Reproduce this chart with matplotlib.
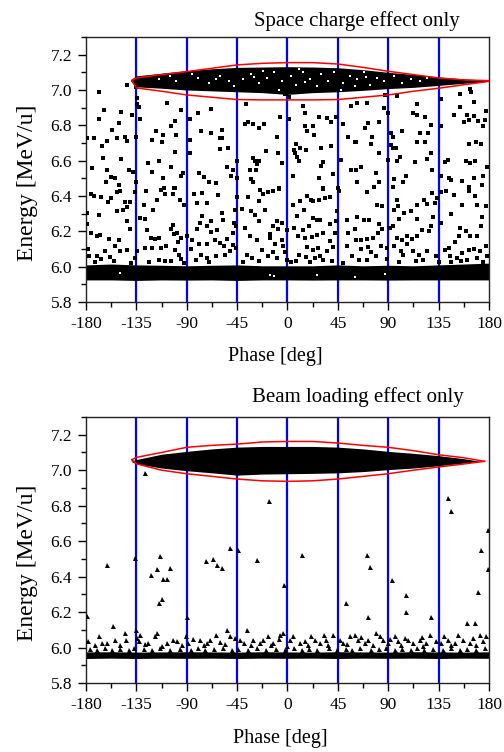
import numpy as np
import matplotlib
matplotlib.use("Agg")
import matplotlib.pyplot as plt
from matplotlib.ticker import MultipleLocator

plt.rcParams['font.family'] = ['Liberation Serif', 'DejaVu Serif']
plt.rcParams['axes.unicode_minus'] = False

# ---------------- data ----------------
x_ticks = [-180, -135, -90, -45, 0, 45, 90, 135, 180]
y_ticks = [5.8, 6.0, 6.2, 6.4, 6.6, 6.8, 7.0, 7.2]
blue_lines = [-135, -90, -45, 0, 45, 90, 135]

# red acceptance boundary, top panel
red_phase = [-139, -135, -112.5, -90, -67.5, -45, -22.5, 0, 22.5, 45, 67.5, 90, 112.5, 135, 157.5, 180]
red_top_1 = [7.053, 7.068, 7.087, 7.104, 7.123, 7.142, 7.151, 7.155, 7.155, 7.147, 7.128, 7.106, 7.087, 7.068, 7.057, 7.053]
red_bot_1 = [7.053, 7.012, 6.993, 6.972, 6.959, 6.946, 6.944, 6.944, 6.944, 6.946, 6.959, 6.972, 6.993, 7.010, 7.030, 7.049]
# red acceptance boundary, bottom panel
red_phase_2 = [-139, -135, -112.5, -90, -67.5, -45, -22.5, 0, 22.5, 45, 67.5, 90, 112.5, 135, 157.5, 176]
red_top_2 = [7.059, 7.072, 7.100, 7.129, 7.140, 7.147, 7.159, 7.162, 7.162, 7.153, 7.140, 7.129, 7.110, 7.087, 7.070, 7.050]
red_bot_2 = [7.059, 7.036, 7.000, 6.980, 6.965, 6.950, 6.940, 6.937, 6.940, 6.950, 6.965, 6.980, 7.000, 7.018, 7.035, 7.050]

# dense core inside the bucket, top panel
core_phase_1 = [-140, -135, -112.5, -90, -67.5, -45, -22.5, 0, 22.5, 45, 67.5, 90, 112.5, 135, 157.5, 180]
core_top_1 = [7.060, 7.080, 7.095, 7.110, 7.120, 7.128, 7.130, 7.132, 7.130, 7.126, 7.115, 7.100, 7.088, 7.074, 7.063, 7.055]
core_bot_1 = [7.050, 7.018, 7.010, 7.000, 6.995, 6.990, 6.985, 6.975, 6.985, 6.990, 6.998, 7.008, 7.015, 7.026, 7.038, 7.050]
core_holes_1 = [(-115, 7.06), (-100, 7.05), (-80, 7.07), (-70, 7.04), (-60, 7.08), (-52, 7.05), (-40, 7.06),
                (-33, 7.09), (-25, 7.04), (-18, 7.07), (-12, 7.10), (-5, 7.05), (3, 7.08), (8, 7.03), (14, 7.10),
                (20, 7.06), (26, 7.02), (30, 7.09), (36, 7.05), (42, 7.10), (50, 7.04), (56, 7.08), (62, 7.06),
                (68, 7.10), (74, 7.03), (80, 7.07), (86, 7.05), (95, 7.08), (102, 7.04), (110, 7.06), (118, 7.05),
                (125, 7.07), (-85, 7.09), (-105, 7.08), (-22, 7.11), (10, 7.12), (48, 7.00), (-8, 7.00),
                (-48, 7.02), (60, 7.02), (-30, 7.075), (16, 7.045), (70, 7.075), (-64, 7.06)]

# dense core, bottom panel
core_phase_2 = [-140, -135, -112.5, -90, -67.5, -45, -22.5, 0, 22.5, 45, 67.5, 90, 112.5, 135, 157.5, 172]
core_top_2 = [7.050, 7.060, 7.090, 7.106, 7.120, 7.130, 7.134, 7.134, 7.134, 7.130, 7.120, 7.106, 7.095, 7.082, 7.065, 7.050]
core_bot_2 = [7.050, 7.036, 7.012, 6.997, 6.985, 6.972, 6.978, 6.980, 6.982, 6.985, 6.992, 7.003, 7.012, 7.025, 7.040, 7.050]

# low-energy band
band_phase = [-180, -157.5, -135, -112.5, -90, -67.5, -45, -22.5, 0, 22.5, 45, 67.5, 90, 112.5, 135, 157.5, 180]
band_top_1 = [6.010, 6.015, 6.010, 6.008, 6.005, 6.008, 6.010, 6.005, 6.005, 6.005, 6.010, 6.005, 6.008, 6.005, 6.010, 6.015, 6.020]
band_bot_1 = [5.925, 5.925, 5.922, 5.925, 5.924, 5.925, 5.922, 5.925, 5.925, 5.924, 5.925, 5.925, 5.924, 5.925, 5.925, 5.925, 5.925]
band_holes_1 = [(-15.6, 5.955), (-12, 5.945), (26, 5.951), (60.3, 5.942), (87.5, 5.961), (-150, 5.962)]
band_top_2 = [5.975, 5.976, 5.974, 5.975, 5.976, 5.975, 5.974, 5.976, 5.975, 5.974, 5.976, 5.975, 5.974, 5.976, 5.975, 5.974, 5.976]
band_bot_2 = [5.938, 5.940, 5.938, 5.940, 5.939, 5.940, 5.938, 5.940, 5.939, 5.940, 5.938, 5.940, 5.939, 5.940, 5.938, 5.940, 5.939]

# scattered particles, top panel (phase, energy)
sc_left_high = [(-168.4, 6.989), (-134.2, 6.918), (-108, 6.929), (-94.8, 6.886), (-80, 6.867), (-68.6, 6.895),
                (-164, 6.886), (-149, 6.876), (-139, 6.857), (-131.8, 6.835), (-168.4, 6.835), (-150.5, 6.816),
                (-100.8, 6.825), (-103.8, 6.797), (-87, 6.838), (-77, 6.767), (-68.6, 6.758), (-156.5, 6.773),
                (-117.8, 6.767), (-111.2, 6.748), (-99.9, 6.748), (-178.8, 6.726), (-172.9, 6.726), (-161.6, 6.712),
                (-165.4, 6.684), (-152, 6.726), (-145.5, 6.735), (-143.7, 6.712), (-135.6, 6.735), (-120.7, 6.716),
                (-111.8, 6.707), (-100.8, 6.65), (-87, 6.716), (-87, 6.641), (-60.3, 6.726), (-60.3, 6.665),
                (-164.5, 6.616), (-149, 6.607), (-124.6, 6.584), (-114.8, 6.597), (-103.8, 6.565), (-174.4, 6.556),
                (-161.5, 6.546), (-158, 6.509), (-154.4, 6.503), (-141.6, 6.546), (-137.7, 6.537), (-120.7, 6.537),
                (-111.2, 6.503), (-93, 6.528), (-95.4, 6.514), (-79, 6.528), (-74.6, 6.509), (-70, 6.48),
                (-64.2, 6.471), (-162.4, 6.48), (-150.5, 6.462), (-135.6, 6.48), (-110.3, 6.447), (-101.4, 6.447),
                (-168, 6.99), (-143.6, 7.03), (-135.3, 7.019), (-134.5, 6.955), (-133, 6.905)]
sc_mid_high = [(-37.1, 6.918), (-6.7, 6.848), (1.6, 6.835), (14.1, 6.91), (15.6, 6.867), (28.4, 6.848),
               (35.6, 6.842), (38.6, 6.82), (43.3, 6.848), (56.4, 6.91), (-38, 6.81), (-35, 6.82), (-30.5, 6.806),
               (-25.2, 6.786), (-20.7, 6.81), (15.6, 6.797), (17.7, 6.767), (22.5, 6.797), (23.7, 6.748),
               (49.9, 6.806), (-58.8, 6.773), (-58.8, 6.726), (-52.9, 6.669), (-9.7, 6.735), (7.6, 6.697),
               (11.2, 6.673), (16.5, 6.66), (5.8, 6.663), (29.6, 6.673), (38.6, 6.684), (54.4, 6.735), (60.3, 6.703),
               (-19.2, 6.656), (-8.2, 6.646), (6.7, 6.646), (8.8, 6.622), (10.6, 6.597), (-5.2, 6.584),
               (-30.5, 6.616), (-29, 6.597), (-27.5, 6.579), (-25.2, 6.597), (-44.8, 6.597), (-54.3, 6.565),
               (-48.4, 6.546), (-50.8, 6.515), (-44.8, 6.503), (-33.5, 6.546), (-28.1, 6.546), (-32.9, 6.496),
               (-30.5, 6.477), (4.6, 6.515), (31.4, 6.594), (29.6, 6.571), (47.5, 6.603), (56.4, 6.546),
               (28.4, 6.503), (40.9, 6.522), (45.4, 6.447), (-7.3, 6.447), (31.4, 6.447), (1.0, 6.96), (-2, 6.975)]
sc_right_high = [(62.4, 6.929), (70.7, 6.929), (86.2, 6.899), (89.8, 6.872), (112.4, 6.867), (116, 6.857),
                 (115.4, 6.923), (122.5, 6.848), (137.4, 6.948), (154.1, 6.98), (164.2, 6.989), (166.6, 6.933),
                 (148.7, 6.861), (154.1, 6.904), (160, 6.857), (162.1, 6.829), (166.6, 6.853), (170.2, 6.823),
                 (174.9, 6.797), (177, 6.88), (176.1, 6.829), (71.9, 6.816), (81.7, 6.82), (68.9, 6.786),
                 (92.8, 6.759), (94.5, 6.735), (102.6, 6.767), (118.4, 6.759), (125.5, 6.759), (128.5, 6.801),
                 (137.4, 6.797), (157.7, 6.82), (60.9, 6.707), (75.8, 6.735), (74.3, 6.692), (92.2, 6.688),
                 (94.5, 6.673), (96.6, 6.673), (115.4, 6.707), (122.5, 6.707), (162.1, 6.697), (168.1, 6.707),
                 (173.2, 6.692), (81.7, 6.646), (100.5, 6.622), (97.5, 6.597), (89.8, 6.603), (128.5, 6.646),
                 (124.9, 6.609), (113.6, 6.59), (143.4, 6.603), (140.4, 6.59), (159.2, 6.597), (163, 6.584),
                 (167.2, 6.597), (178.5, 6.565), (66, 6.565), (60.9, 6.546), (78.8, 6.533), (105.6, 6.515),
                 (95.1, 6.496), (129.4, 6.546), (137.4, 6.515), (144.3, 6.503), (146.4, 6.49), (156.2, 6.484),
                 (166.6, 6.503), (174.9, 6.515), (81.7, 6.48), (62.4, 6.48), (94.5, 6.452), (77.3, 6.452),
                 (103.5, 6.48), (162.1, 6.452), (174, 6.462), (163, 7.006), (87, 6.97), (98, 6.965)]
sc_left_low = [(-175.8, 6.413), (-172.9, 6.401), (-166.3, 6.397), (-160.4, 6.364), (-157.4, 6.388), (-152, 6.42),
               (-149.6, 6.426), (-145.5, 6.364), (-140.7, 6.364), (-152.6, 6.313), (-146.7, 6.322), (-143.7, 6.337),
               (-136.5, 6.42), (-179.4, 6.303), (-168.4, 6.294), (-178.8, 6.243), (-175.8, 6.19), (-170.5, 6.175),
               (-178.2, 6.1), (-177.3, 6.058), (-169.9, 6.058), (-166.9, 6.043), (-159.5, 6.156), (-154.4, 6.115),
               (-150.5, 6.149), (-149.6, 6.087), (-143.7, 6.256), (-140.7, 6.213), (-143.1, 6.096), (-158.6, 6.055),
               (-167.5, 6.181), (-163.3, 6.087), (-136.5, 6.049), (-134.2, 6.087), (-131.8, 6.275), (-127.6, 6.269),
               (-126.7, 6.426), (-119.9, 6.322), (-125.8, 6.209), (-122.2, 6.162), (-118.7, 6.156), (-114.8, 6.162),
               (-127.6, 6.106), (-120.7, 6.106), (-112.7, 6.106), (-108.8, 6.119), (-114.8, 6.04), (-109.7, 6.03),
               (-103.8, 6.03), (-112.7, 6.435), (-109.7, 6.413), (-102, 6.413), (-100.8, 6.445), (-96, 6.375),
               (-92.5, 6.35), (-102, 6.237), (-103.8, 6.213), (-101.4, 6.187), (-98.4, 6.19), (-95.4, 6.162),
               (-90.1, 6.175), (-97.8, 6.138), (-100.8, 6.096), (-96.9, 6.068), (-95.4, 6.043), (-86.5, 6.1),
               (-85, 6.149), (-81.1, 6.213), (-78.2, 6.247), (-76, 6.285), (-72.2, 6.228), (-68.6, 6.256),
               (-68, 6.194), (-63.3, 6.209), (-79, 6.13), (-72.2, 6.13), (-65.1, 6.149), (-60.3, 6.134),
               (-77, 6.068), (-82.1, 6.036), (-71.6, 6.049), (-64.2, 6.058), (-83.5, 6.413), (-76, 6.416),
               (-71.6, 6.36), (-80.6, 6.36), (-62.1, 6.407), (-128.2, 6.35), (-116.9, 6.379),
               (-172, 6.025), (-155, 6.03), (-140, 6.022), (-124, 6.028), (-92, 6.022), (-70, 6.025)]
sc_mid_low = [(-44.8, 6.397), (-46.9, 6.318), (-47.8, 6.25), (-46, 6.228), (-49, 6.19), (-53.7, 6.156),
              (-56.7, 6.119), (-48.4, 6.124), (-46, 6.106), (-51.4, 6.087), (-55.8, 6.068), (-58.8, 6.303),
              (-57.9, 6.266), (-41, 6.326), (-35, 6.394), (-32.9, 6.313), (-29, 6.294), (-24.6, 6.435),
              (-25.2, 6.369), (-21.6, 6.413), (-17.1, 6.42), (-12.7, 6.426), (-7.3, 6.439), (-20.1, 6.318),
              (-25.2, 6.256), (-33.5, 6.175), (-38, 6.218), (-27.5, 6.153), (-23.1, 6.092), (-15.6, 6.187),
              (-13.2, 6.232), (-9.7, 6.256), (-5.2, 6.25), (-8.2, 6.213), (-15.6, 6.162), (-11.2, 6.13),
              (-12.7, 6.081), (-5.2, 6.149), (-4.3, 6.115), (-2.2, 6.081), (-9.1, 6.049), (-17.1, 6.058),
              (-36.5, 6.068), (-32, 6.049), (5.2, 6.35), (11.2, 6.369), (14.7, 6.322), (8.8, 6.285),
              (17.7, 6.401), (20.7, 6.379), (23.1, 6.369), (28.4, 6.375), (33.5, 6.388), (38, 6.397), (32, 6.439),
              (23.1, 6.275), (26.7, 6.266), (29, 6.262), (19.5, 6.232), (14.1, 6.209), (9.7, 6.175), (5.8, 6.218),
              (15.6, 6.162), (21.6, 6.168), (26, 6.181), (32, 6.19), (38, 6.243), (43.3, 6.256), (38, 6.143),
              (42.4, 6.19), (17.1, 6.111), (23.1, 6.096), (27.5, 6.106), (10.6, 6.068), (16.5, 6.055),
              (24.6, 6.049), (29, 6.058), (32, 6.036), (35, 6.087), (41, 6.111), (43.9, 6.313), (46.3, 6.426),
              (52.9, 6.266), (54.4, 6.19), (52.9, 6.115), (57.3, 6.058), (60.3, 6.213), (-0.7, 6.209), (2.8, 6.025),
              (-40, 6.025), (-25, 6.03), (0, 6.04), (8, 6.03), (20, 6.025), (40, 6.03), (50, 6.022)]
sc_right_low = [(70.7, 6.42), (80.2, 6.35), (84.7, 6.345), (97.5, 6.379), (98.7, 6.345), (95.1, 6.322),
                (62.4, 6.281), (68.3, 6.262), (72.8, 6.266), (81.7, 6.243), (84.7, 6.213), (91.6, 6.218),
                (94.5, 6.232), (99.6, 6.269), (104.1, 6.303), (110.6, 6.313), (115.4, 6.35), (115.4, 6.269),
                (121.9, 6.375), (124.9, 6.356), (129.4, 6.416), (133.3, 6.388), (131.5, 6.36), (137.4, 6.42),
                (130.3, 6.281), (137.4, 6.25), (60.9, 6.153), (65.4, 6.153), (70.7, 6.156), (76.7, 6.162),
                (80.8, 6.19), (65.9, 6.1), (71.9, 6.111), (74.9, 6.081), (78.8, 6.058), (83.2, 6.115),
                (88.6, 6.106), (95.1, 6.119), (98.1, 6.162), (102.6, 6.149), (106.4, 6.13), (107, 6.175),
                (111.5, 6.156), (115.4, 6.172), (120.5, 6.209), (126.4, 6.2), (128.5, 6.228), (101.1, 6.087),
                (103.5, 6.068), (112.4, 6.087), (117.5, 6.068), (124.3, 6.087), (132.4, 6.058), (121.3, 6.04),
                (63.9, 6.036), (71.3, 6.036), (89.2, 6.043), (141.3, 6.426), (148.7, 6.407), (156.2, 6.35),
                (162.1, 6.426), (167.2, 6.401), (169.6, 6.35), (145.8, 6.3), (154.1, 6.218), (159.2, 6.2),
                (163, 6.175), (169, 6.172), (172.6, 6.232), (174, 6.281), (177, 6.341), (153.2, 6.172),
                (149.3, 6.138), (144.3, 6.106), (140.4, 6.092), (145.2, 6.058), (151.7, 6.049), (156.2, 6.077),
                (162.1, 6.092), (166.6, 6.1), (172, 6.087), (177, 6.115), (178.5, 6.058), (169.6, 6.049),
                (160.6, 6.036), (145.8, 6.025), (100, 6.025), (115, 6.03), (135, 6.028), (155, 6.03), (175, 6.025)]

# scattered particles, bottom panel (phase, energy)
bl_sparse = [(-178.8, 6.179), (-161, 6.467), (-156.2, 6.119), (-136.3, 6.505), (-135.4, 6.100), (-127.3, 6.984),
             (-122.2, 6.407), (-116.3, 6.444), (-113.9, 6.514), (-111.6, 6.386), (-108, 6.386), (-114.5, 6.251),
             (-112.5, 6.273), (-105, 6.448), (-90.1, 6.172), (-72.9, 6.486), (-66.3, 6.501), (-63.3, 6.467),
             (-58.9, 6.448), (-51.5, 6.561), (-44, 6.548), (-36.6, 6.100), (-27.1, 6.495), (-16.4, 6.824),
             (-3, 6.354), (13.4, 6.523), (52.1, 6.251), (71.1, 6.523), (74.1, 6.454), (72, 6.172), (93.6, 6.382),
             (105.6, 6.294), (105.6, 6.200), (128.5, 6.172), (143.4, 6.843), (146.4, 6.768), (160.4, 6.138),
             (167.2, 6.138), (170.2, 6.311), (173.2, 6.548), (179.1, 6.660), (179.1, 6.442)]
bl_low = [(-178, 6.035), (-168, 6.063), (-161.5, 6.025), (-154, 6.044), (-145, 6.082), (-144, 6.044),
          (-134.8, 6.053), (-132.4, 6.035), (-124.4, 6.025), (-118.4, 6.063), (-117, 6.082), (-108, 6.025),
          (-102, 6.044), (-98.5, 6.035), (-90.7, 6.067), (-88.7, 6.025), (-78.2, 6.044), (-72.3, 6.025),
          (-69.3, 6.044), (-64, 6.072), (-54.4, 6.100), (-51.5, 6.063), (-42.5, 6.044), (-39, 6.025),
          (-30.6, 6.044), (-24.7, 6.025), (-21.6, 6.044), (-17.3, 6.063), (-12.8, 6.025), (-6.8, 6.072),
          (-3.9, 6.082), (2.1, 6.044), (5.1, 6.067), (11, 6.025), (15.5, 6.035), (21.4, 6.063), (24.4, 6.044),
          (28.9, 6.025), (34.8, 6.044), (40.8, 6.072), (46.7, 6.044), (49.7, 6.025), (55.6, 6.063),
          (60.1, 6.072), (63.1, 6.044), (69, 6.025), (72, 6.044), (79.4, 6.082), (82.4, 6.063), (85.4, 6.044),
          (89.8, 6.025), (95.8, 6.063), (98.7, 6.035), (104.7, 6.053), (107.7, 6.044), (112.2, 6.025),
          (118.1, 6.044), (124.1, 6.025), (127, 6.072), (133, 6.035), (137.5, 6.025), (143.4, 6.044),
          (149.3, 6.025), (152.3, 6.072), (156.8, 6.044), (162.8, 6.025), (165.7, 6.053), (171.7, 6.072),
          (174.7, 6.035), (177.6, 6.063), (-165.5, 6.025), (-131.8, 6.072), (-84, 6.05), (-60, 6.03),
          (-47, 6.055), (-8, 6.05), (33, 6.07), (66, 6.06), (92, 6.05), (120, 6.06), (140, 6.065),
          (-172, 6.015), (-150, 6.012), (-127, 6.018), (-112, 6.01), (-94, 6.015), (-75, 6.012), (-56, 6.018),
          (-33, 6.012), (-15, 6.015), (0, 6.01), (18, 6.015), (36, 6.012), (53, 6.018), (76, 6.012),
          (101, 6.015), (121, 6.01), (146, 6.015), (168, 6.012)]
bl_edge = [(-176, 5.99), (-170, 5.985), (-163, 5.995), (-157, 5.988), (-150, 5.992), (-142, 5.986),
           (-137, 5.996), (-128, 5.99), (-121, 5.985), (-114, 5.995), (-105, 5.988), (-96, 5.993),
           (-86, 5.985), (-80, 5.995), (-74, 5.988), (-66, 5.99), (-58, 5.996), (-50, 5.986), (-44, 5.992),
           (-35, 5.988), (-27, 5.995), (-19, 5.985), (-10, 5.992), (-2, 5.988), (6, 5.995), (13, 5.986),
           (19, 5.993), (26, 5.988), (37, 5.995), (44, 5.985), (52, 5.992), (58, 5.988), (65, 5.995),
           (75, 5.986), (82, 5.99), (88, 5.996), (96, 5.986), (102, 5.992), (110, 5.988), (116, 5.995),
           (122, 5.985), (130, 5.992), (139, 5.988), (146, 5.995), (154, 5.986), (160, 5.992), (168, 5.988),
           (176, 5.995)]


def style_axes(ax):
    ax.set_xlim(-180, 180)
    ax.set_ylim(5.8, 7.3)
    ax.set_xticks(x_ticks)
    ax.set_xticklabels([str(v) for v in x_ticks])
    ax.set_yticks(y_ticks)
    ax.set_yticklabels(['%.1f' % v for v in y_ticks])
    ax.xaxis.set_minor_locator(MultipleLocator(22.5))
    ax.yaxis.set_minor_locator(MultipleLocator(0.1))
    ax.tick_params(which='major', direction='out', length=6, width=1, labelsize=12.5, pad=4)
    ax.tick_params(which='minor', direction='out', length=3.5, width=1)
    for s in ax.spines.values():
        s.set_linewidth(1.0)
        s.set_color('#222222')
    for b in blue_lines:
        ax.axvline(b, color='#0000ff', lw=1.6, zorder=1)


fig = plt.figure(figsize=(5.04, 7.52), dpi=100)
ax1 = fig.add_axes([0.1706, 0.5984, 0.7996, 0.3524])
ax2 = fig.add_axes([0.1706, 0.0918, 0.7996, 0.3537])

# ---- top panel ----
style_axes(ax1)
ax1.fill_between(band_phase, band_bot_1, band_top_1, color='k', lw=0, zorder=2)
ax1.fill_between(core_phase_1, core_bot_1, core_top_1, color='k', lw=0, zorder=2)
for grp in (sc_left_high, sc_mid_high, sc_right_high, sc_left_low, sc_mid_low, sc_right_low):
    arr = np.array(grp)
    ax1.plot(arr[:, 0], arr[:, 1], 's', ms=2.8, mew=0, color='k', zorder=3)
h = np.array(core_holes_1)
ax1.plot(h[:, 0], h[:, 1], 's', ms=1.7, mew=0, color='white', zorder=3)
h = np.array(band_holes_1)
ax1.plot(h[:, 0], h[:, 1], 's', ms=1.6, mew=0, color='white', zorder=3)
ax1.plot(red_phase, red_top_1, color='#ff0000', lw=1.1, zorder=4)
ax1.plot(red_phase, red_bot_1, color='#ff0000', lw=1.1, zorder=4)

# ---- bottom panel ----
style_axes(ax2)
ax2.fill_between(band_phase, band_bot_2, band_top_2, color='k', lw=0, zorder=2)
ax2.fill_between(core_phase_2, core_bot_2, core_top_2, color='k', lw=0, zorder=2)
for grp in (bl_sparse, bl_low, bl_edge):
    arr = np.array(grp)
    ax2.plot(arr[:, 0], arr[:, 1], '^', ms=3.6, mew=0, color='k', zorder=3)
ax2.plot(red_phase_2, red_top_2, color='#ff0000', lw=1.1, zorder=4)
ax2.plot(red_phase_2, red_bot_2, color='#ff0000', lw=1.1, zorder=4)

# ---- texts ----
fig.text(0.708, 1 - 21 / 752, 'Space charge effect only', ha='center', va='center', fontsize=15)
fig.text(0.710, 1 - 397 / 752, 'Beam loading effect only', ha='center', va='center', fontsize=15)
fig.text(0.547, 1 - 357 / 752, 'Phase [deg]', ha='center', va='center', fontsize=14.5)
fig.text(0.556, 1 - 739 / 752, 'Phase [deg]', ha='center', va='center', fontsize=14.5)
fig.text(0.054, 0.757, 'Energy [MeV/u]', ha='center', va='center', rotation=90, fontsize=17)
fig.text(0.054, 0.252, 'Energy [MeV/u]', ha='center', va='center', rotation=90, fontsize=17)

fig.savefig('out.png', dpi=100)
